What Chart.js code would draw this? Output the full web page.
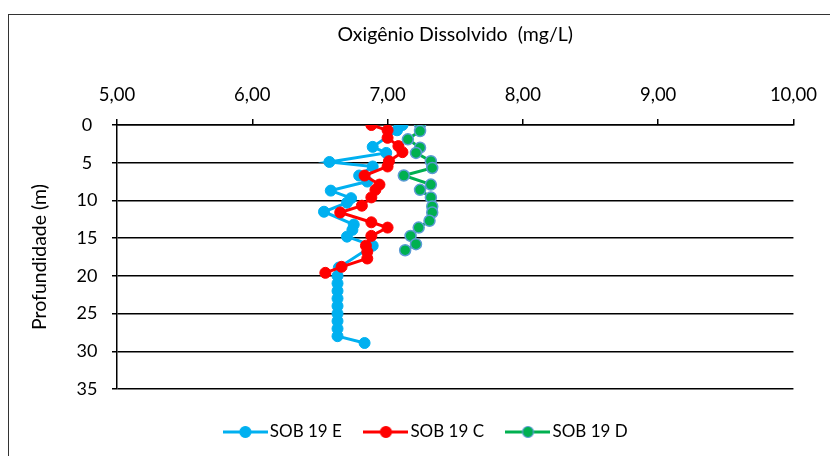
<!DOCTYPE html>
<html>
<head>
<meta charset="utf-8">
<script src="https://cdn.jsdelivr.net/npm/chart.js@4.4.1/dist/chart.umd.min.js"></script>
<style>
  html, body { margin: 0; padding: 0; background: #fff; }
  #wrap { position: relative; width: 830px; height: 456px; overflow: hidden; }
  #c { position: absolute; left: 0; top: 0; }
  #frame { position: absolute; left: 8px; top: 14px; width: 900px; height: 500px;
           border-left: 1.5px solid #333; border-top: 1.5px solid #333; pointer-events: none; }
</style>
</head>
<body>
<div id="wrap">
  <canvas id="c" width="830" height="456"></canvas>
  <div id="frame"></div>
</div>
<script>
// ---- Data ----
const seriesNames = ['SOB 19 E', 'SOB 19 C', 'SOB 19 D'];

const depthE = [0.0, 0.7, 2.9, 3.7, 4.9, 5.5, 6.7, 7.5, 8.7, 9.7, 10.3, 11.5, 13.2, 13.9, 14.8, 16.0, 18.9,
                20.0, 21.0, 22.0, 23.0, 24.0, 25.0, 26.0, 27.0, 28.0, 28.9];
const oxygenE = [7.11, 7.07, 6.89, 6.99, 6.57, 6.89, 6.79, 6.85, 6.58, 6.73, 6.70, 6.53, 6.75, 6.74, 6.70, 6.89, 6.64,
                 6.63, 6.63, 6.63, 6.63, 6.63, 6.63, 6.63, 6.63, 6.63, 6.83];

const depthC = [0.0, 0.7, 1.7, 2.8, 3.6, 4.8, 5.5, 6.7, 7.9, 8.6, 9.6, 10.7, 11.6, 12.9, 13.6, 14.7, 16.0, 16.8, 17.7, 18.8, 19.6];
const oxygenC = [6.88, 7.00, 7.00, 7.08, 7.11, 7.01, 7.00, 6.83, 6.94, 6.91, 6.88, 6.81, 6.65, 6.88, 7.00, 6.88, 6.84, 6.85, 6.85, 6.66, 6.54];

const depthD = [0.0, 0.8, 1.9, 3.0, 3.7, 4.8, 5.7, 6.7, 7.9, 8.6, 9.6, 10.8, 11.6, 12.7, 13.6, 14.7, 15.8, 16.6];
const oxygenD = [7.24, 7.24, 7.15, 7.24, 7.21, 7.32, 7.33, 7.12, 7.32, 7.24, 7.32, 7.33, 7.33, 7.31, 7.23, 7.17, 7.21, 7.13];

const xTickMin = 5, xTickMax = 10, xTickStep = 1;
const yTickMin = 0, yTickMax = 35, yTickStep = 5;
const xTitle = 'Oxigênio Dissolvido  (mg/L)';
const yTitle = 'Profundidade (m)';

// ---- Styling ----
const colE = '#00B0F0', colC = '#FF0000', colD = '#00B050', colDEdge = '#5B9BD5';
const FONT = 'Lato, Carlito, Calibri, "Open Sans", sans-serif';

function pts(depths, vals) { return depths.map((d, i) => ({ x: vals[i], y: d })); }

function legendImage(lineCol, fill, edge) {
  const cv = document.createElement('canvas');
  cv.width = 45; cv.height = 14;
  const g = cv.getContext('2d');
  g.strokeStyle = lineCol; g.lineWidth = 3;
  g.beginPath(); g.moveTo(0, 7); g.lineTo(45, 7); g.stroke();
  g.beginPath(); g.arc(22.5, 7, 5.5, 0, Math.PI * 2);
  g.fillStyle = fill; g.fill();
  g.lineWidth = 1.2; g.strokeStyle = edge; g.stroke();
  return cv;
}

function build() {
  const legendImgs = [legendImage(colE, colE, colE), legendImage(colC, colC, colC), legendImage(colD, colD, colDEdge)];
  const common = { showLine: true, borderWidth: 3, tension: 0, pointRadius: 5.5, pointHoverRadius: 5.5, pointBorderWidth: 1 };

  new Chart(document.getElementById('c'), {
    type: 'scatter',
    data: {
      datasets: [
        Object.assign({ label: seriesNames[0], data: pts(depthE, oxygenE), borderColor: colE,
          pointBackgroundColor: colE, pointBorderColor: colE, order: 3 }, common),
        Object.assign({ label: seriesNames[1], data: pts(depthC, oxygenC), borderColor: colC,
          pointBackgroundColor: colC, pointBorderColor: colC, order: 2 }, common),
        Object.assign({ label: seriesNames[2], data: pts(depthD, oxygenD), borderColor: colD,
          pointBackgroundColor: colD, pointBorderColor: colDEdge, order: 1 }, common, { pointBorderWidth: 1.5 })
      ]
    },
    options: {
      responsive: false,
      animation: false,
      events: [],
      layout: { padding: { left: 27, right: 0, top: 0, bottom: 5.5 } },
      plugins: {
        title: { display: false },
        tooltip: { enabled: false },
        legend: {
          display: true,
          position: 'bottom',
          labels: {
            usePointStyle: true,
            pointStyleWidth: 32,
            padding: 28,
            color: '#000',
            font: { family: FONT, size: 17 },
            generateLabels(chart) {
              return chart.data.datasets.map((ds, i) => ({
                text: ds.label, pointStyle: legendImgs[i], fillStyle: ds.borderColor,
                strokeStyle: ds.borderColor, lineWidth: 0, hidden: false, datasetIndex: i, fontColor: '#000'
              }));
            }
          }
        }
      },
      scales: {
        x: {
          type: 'linear', axis: 'x', position: 'top',
          min: xTickMin, max: xTickMax,
          ticks: { stepSize: xTickStep, padding: 13, color: '#000', font: { family: FONT, size: 18.5 },
                   callback: v => v.toFixed(2).replace('.', ',') },
          grid: { drawOnChartArea: false, drawTicks: true, tickLength: 6, tickColor: '#000', tickWidth: 1.5, color: '#000', lineWidth: 1.5 },
          border: { display: true, color: '#000', width: 1.5 },
          title: { display: true, text: xTitle, color: '#000', font: { family: FONT, size: 19.5 }, padding: { top: 23.3, bottom: 0 } },
          afterFit(s) { s.height = 125; }
        },
        y: {
          type: 'linear', axis: 'y', position: 'left', reverse: true,
          min: yTickMin, max: yTickMax,
          ticks: { stepSize: yTickStep, padding: 14.5, crossAlign: 'center', color: '#000', font: { family: FONT, size: 18 } },
          grid: { drawOnChartArea: true, drawTicks: true, tickLength: 5, color: '#000', tickColor: '#000', lineWidth: 1.5 },
          border: { display: true, color: '#000', width: 1.5 },
          title: { display: true, text: yTitle, color: '#000', font: { family: FONT, size: 19.5 }, padding: { top: 1.3, bottom: 0 } },
          afterFit(s) { s.width = 90; }
        },
        y2: {
          type: 'linear', axis: 'y', position: 'right', display: true,
          ticks: { display: false }, grid: { display: false, drawTicks: false }, border: { display: false },
          afterFit(s) { s.width = 34; }
        },
        xb: {
          type: 'linear', axis: 'x', position: 'bottom', display: true,
          ticks: { display: false }, grid: { display: false, drawTicks: false }, border: { display: false },
          afterFit(s) { s.height = 6.5; }
        }
      }
    }
  });
}

if (document.fonts && document.fonts.load) {
  document.fonts.load('17px Lato').then(build, build);
} else {
  build();
}
</script>
</body>
</html>
